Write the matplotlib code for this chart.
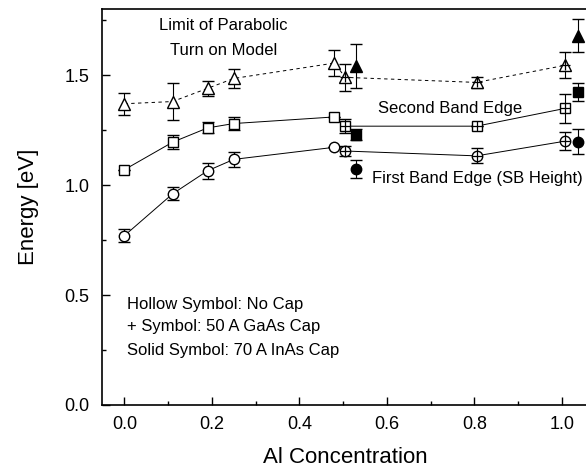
import matplotlib.pyplot as plt
from matplotlib.ticker import MultipleLocator

plt.rcParams['font.family'] = ['Liberation Sans', 'DejaVu Sans']

# Hollow symbols: no cap
x_hollow = [0.0, 0.11, 0.19, 0.25, 0.48]
tri_hollow = [1.37, 1.38, 1.44, 1.485, 1.555]
tri_hollow_err = [0.05, 0.085, 0.035, 0.045, 0.06]
sq_hollow = [1.07, 1.195, 1.26, 1.28, 1.31]
sq_hollow_err = [0.0, 0.032, 0.025, 0.03, 0.0]
circ_hollow = [0.77, 0.96, 1.065, 1.117, 1.172]
circ_hollow_err = [0.03, 0.03, 0.035, 0.033, 0.0]

# + symbols: 50 A GaAs cap
x_plus = [0.505, 0.805, 1.008]
tri_plus = [1.49, 1.467, 1.545]
tri_plus_err = [0.06, 0.025, 0.06]
sq_plus = [1.268, 1.268, 1.349]
sq_plus_err = [0.032, 0.0, 0.066]
circ_plus = [1.155, 1.133, 1.2]
circ_plus_err = [0.023, 0.034, 0.04]

# Solid symbols: 70 A InAs cap
x_solid = [0.53, 1.036]
tri_solid = [1.54, 1.68]
tri_solid_err = [0.1, 0.076]
sq_solid = [1.23, 1.424]
sq_solid_err = [0.026, 0.04]
circ_solid = [1.073, 1.197]
circ_solid_err = [0.042, 0.057]

fig = plt.figure(figsize=(5.86, 4.74), dpi=100)
ax = fig.add_axes([0.1735, 0.1456, 0.83, 0.835])

lw = 0.7
eb = dict(ecolor='black', elinewidth=0.8, capsize=4, capthick=0.8, linestyle='none')

# connecting lines (hollow + plus)
ax.plot(x_hollow + x_plus, tri_hollow + tri_plus, color='black', lw=lw, ls=(0, (3.5, 3.5)))
ax.plot(x_hollow + x_plus, sq_hollow + sq_plus, color='black', lw=lw)
ax.plot(x_hollow + x_plus, circ_hollow + circ_plus, color='black', lw=lw)

series = [
    (x_hollow, tri_hollow, tri_hollow_err, '^', 'white', 8),
    (x_hollow, sq_hollow, sq_hollow_err, 's', 'white', 6.5),
    (x_hollow, circ_hollow, circ_hollow_err, 'o', 'white', 7.5),
    (x_plus, tri_plus, tri_plus_err, '^', 'white', 8),
    (x_plus, sq_plus, sq_plus_err, 's', 'white', 6.5),
    (x_plus, circ_plus, circ_plus_err, 'o', 'white', 7.5),
    (x_solid, tri_solid, tri_solid_err, '^', 'black', 8),
    (x_solid, sq_solid, sq_solid_err, 's', 'black', 6.5),
    (x_solid, circ_solid, circ_solid_err, 'o', 'black', 7.5),
]
for xs, ys, es, m, fc, ms in series:
    ax.errorbar(xs, ys, yerr=es, fmt=m, mfc=fc, mec='black', mew=1.0, ms=ms, zorder=3, **eb)

# plus signs inside the "+" symbols
for ys, ms in [(tri_plus, 7), (sq_plus, 6.5), (circ_plus, 7.5)]:
    ax.plot(x_plus, ys, '+', color='black', ms=ms, mew=0.9, ls='none', zorder=4)

ax.set_xlim(-0.052, 1.06)
ax.set_ylim(0, 1.8)
ax.xaxis.set_minor_locator(MultipleLocator(0.1))
ax.yaxis.set_minor_locator(MultipleLocator(0.25))
ax.set_xticks([0.0, 0.2, 0.4, 0.6, 0.8, 1.0])
ax.set_xticklabels(['0.0', '0.2', '0.4', '0.6', '0.8', '1.0'])
ax.set_yticks([0.0, 0.5, 1.0, 1.5])
ax.set_yticklabels(['0.0', '0.5', '1.0', '1.5'])
ax.tick_params(which='both', direction='in', top=False, right=False, labelsize=13, width=1.0)
ax.tick_params(which='major', length=6)
ax.tick_params(axis='x', which='major', pad=8)
ax.tick_params(axis='y', which='major', pad=9)
ax.tick_params(which='minor', length=3)
ax.spines['right'].set_visible(False)
for s in ['left', 'bottom', 'top']:
    ax.spines[s].set_linewidth(1.2)

ax.set_xlabel('Al Concentration', fontsize=16, labelpad=10)
ax.set_ylabel('Energy [eV]', fontsize=16, labelpad=18)

ax.text(0.226, 1.727, 'Limit of Parabolic', fontsize=12, ha='center', va='center')
ax.text(0.226, 1.614, 'Turn on Model', fontsize=12, ha='center', va='center')
ax.text(0.745, 1.35, 'Second Band Edge', fontsize=12, ha='center', va='center')
ax.text(0.806, 1.032, 'First Band Edge (SB Height)', fontsize=12, ha='center', va='center')
ax.text(0.006, 0.459, 'Hollow Symbol: No Cap', fontsize=12, ha='left', va='center')
ax.text(0.006, 0.355, '+ Symbol: 50 A GaAs Cap', fontsize=12, ha='left', va='center')
ax.text(0.006, 0.25, 'Solid Symbol: 70 A InAs Cap', fontsize=12, ha='left', va='center')

fig.savefig('out.png', dpi=100)
